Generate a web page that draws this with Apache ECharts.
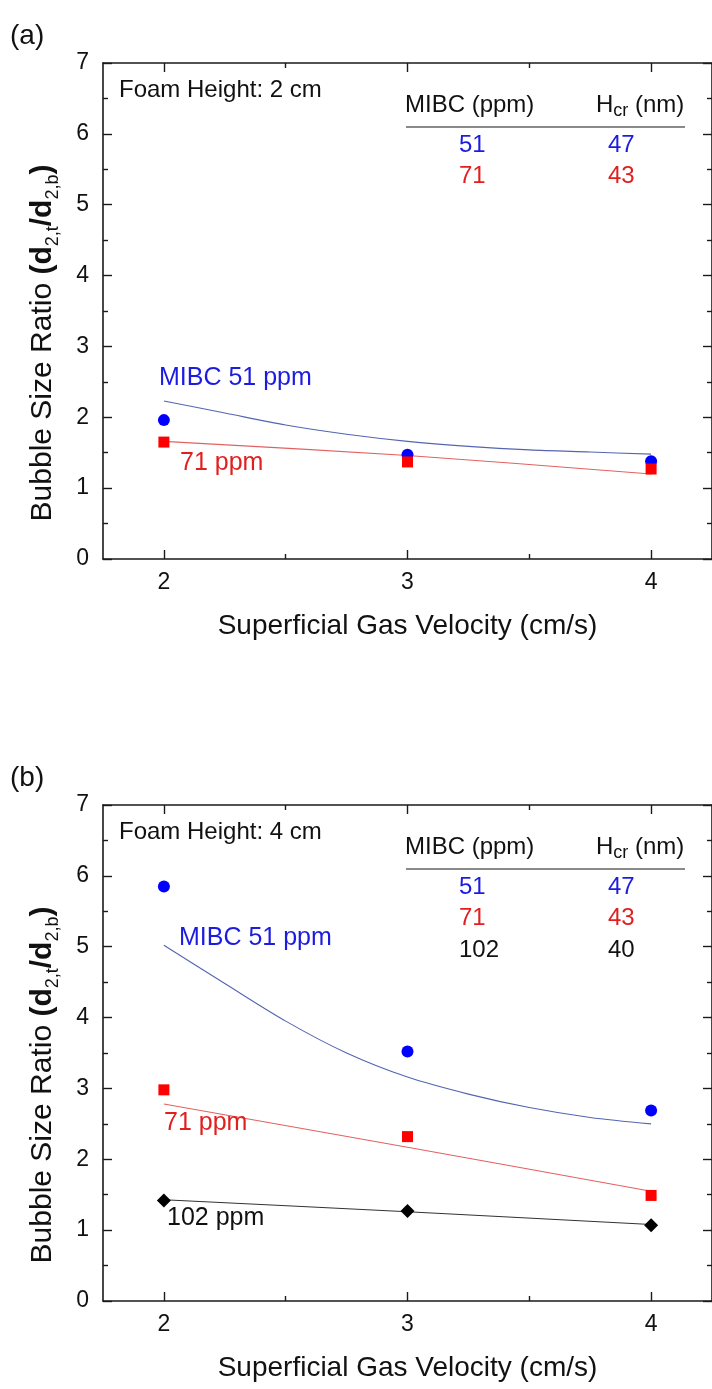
<!DOCTYPE html>
<html><head><meta charset="utf-8">
<script src="https://cdn.jsdelivr.net/npm/echarts@6/dist/echarts.min.js"></script>
<style>html,body{margin:0;padding:0;background:#fff}#c{width:712px;height:1389px}</style>
</head><body><div id="c"></div>
<script>
// ---------- data ----------
const velocity = [2, 3, 4];
const xTickValues = [2, 3, 4];
const xMinorValues = [2.5, 3.5];
const fitX = [2, 2.25, 2.5, 2.75, 3, 3.25, 3.5, 3.75, 4];

// panel (a): foam height 2 cm
const a_mibc51 = [1.96, 1.47, 1.38];
const a_mibc71 = [1.65, 1.37, 1.27];
const a_fit51 = [2.23, 2.06, 1.89, 1.76, 1.66, 1.59, 1.54, 1.51, 1.48];
const a_fit71 = [1.66, 1.46, 1.20];

// panel (b): foam height 4 cm
const b_mibc51 = [5.85, 3.52, 2.69];
const b_mibc71 = [2.98, 2.32, 1.49];
const b_mibc102 = [1.42, 1.27, 1.07];
const b_fit51 = [5.02, 4.48, 3.95, 3.50, 3.16, 2.92, 2.73, 2.59, 2.50];
const b_fit71 = [2.78, 2.17, 1.55];
const b_fit102 = [1.43, 1.26, 1.08];

// legend table
const tableMIBC = ['51', '71', '102'];
const tableHcr = ['47', '43', '40'];

// ---------- styling ----------
const FONT = 'Liberation Sans, Arial, Helvetica, sans-serif';
const BLUE = '#0000ff', RED = '#ff0000', BLACK = '#000000';
const TXT_BLUE = '#1c1ce0', TXT_RED = '#e01f1f';
const AX = '#1a1a1a';
const PANEL_DY = 742;
const GRID_TOP = 63, GRID_LEFT = 103, GRID_W = 617, GRID_H = 496;

const zip = (xs, ys) => xs.map((x, i) => [x, ys[i]]);

function xAxes(gridIndex) {
  const base = { gridIndex, type: 'value', min: 1.75, max: 4.25, splitLine: { show: false } };
  return [
    Object.assign({}, base, {
      position: 'bottom',
      axisLine: { show: true, lineStyle: { color: AX, width: 1.6 } },
      axisTick: { show: true, inside: true, length: 9, customValues: xTickValues, lineStyle: { color: AX, width: 1.4 } },
      axisLabel: { show: true, customValues: xTickValues, fontFamily: FONT, fontSize: 23, color: '#111', margin: 12 },
      name: 'Superficial Gas Velocity (cm/s)', nameLocation: 'middle', nameGap: 53,
      nameTextStyle: { fontFamily: FONT, fontSize: 28, color: '#111' }
    }),
    Object.assign({}, base, {
      position: 'bottom',
      axisLine: { show: false },
      axisTick: { show: true, inside: true, length: 5, customValues: xMinorValues, lineStyle: { color: AX, width: 1.4 } },
      axisLabel: { show: false }
    }),
    Object.assign({}, base, {
      position: 'top',
      axisLine: { show: true, lineStyle: { color: AX, width: 1.6 } },
      axisTick: { show: true, inside: true, length: 9, customValues: xTickValues, lineStyle: { color: AX, width: 1.4 } },
      axisLabel: { show: false }
    }),
    Object.assign({}, base, {
      position: 'top',
      axisLine: { show: false },
      axisTick: { show: true, inside: true, length: 5, customValues: xMinorValues, lineStyle: { color: AX, width: 1.4 } },
      axisLabel: { show: false }
    })
  ];
}
function yAxes(gridIndex) {
  const base = {
    gridIndex, type: 'value', min: 0, max: 7, interval: 1, splitLine: { show: false },
    axisLine: { show: true, lineStyle: { color: AX, width: 1.6 } },
    axisTick: { show: true, inside: true, length: 9, lineStyle: { color: AX, width: 1.4 } },
    minorTick: { show: true, splitNumber: 2, length: 5, lineStyle: { color: AX, width: 1.4 } }
  };
  return [
    Object.assign({}, base, { position: 'left',
      axisLabel: { show: true, fontFamily: FONT, fontSize: 23, color: '#111', margin: 14 } }),
    Object.assign({}, base, { position: 'right', axisLabel: { show: false } })
  ];
}

function fitLine(xi, yi, data, color) {
  return { type: 'line', xAxisIndex: xi, yAxisIndex: yi, data, smooth: 0.3, symbol: 'none',
    lineStyle: { color, width: 1.1 }, z: 2, silent: true };
}
function pts(xi, yi, data, symbol, size, color) {
  return { type: 'scatter', xAxisIndex: xi, yAxisIndex: yi, data, symbol, symbolSize: size,
    itemStyle: { color, opacity: 1 }, z: 3, silent: true };
}

const series = [
  fitLine(0, 0, zip(fitX, a_fit51), '#5565b0'),
  fitLine(0, 0, zip(velocity, a_fit71), '#e26262'),
  pts(0, 0, zip(velocity, a_mibc51), 'circle', 12, BLUE),
  pts(0, 0, zip(velocity, a_mibc71), 'rect', 11, RED),

  fitLine(4, 2, zip(fitX, b_fit51), '#5565b0'),
  fitLine(4, 2, zip(velocity, b_fit71), '#e26262'),
  fitLine(4, 2, zip(velocity, b_fit102), '#333333'),
  pts(4, 2, zip(velocity, b_mibc51), 'circle', 12, BLUE),
  pts(4, 2, zip(velocity, b_mibc71), 'rect', 11, RED),
  pts(4, 2, zip(velocity, b_mibc102), 'diamond', 14, BLACK)
];

// ---------- annotations ----------
function txt(x, y, text, color, size, extra) {
  return Object.assign({ type: 'text', x, y, z: 10, silent: true,
    style: { text, fill: color || '#111', font: (size || 24) + 'px ' + FONT, verticalAlign: 'middle', align: 'left' } }, extra || {});
}
function panelGraphics(dy, label, foam, rows, curveLabels) {
  const g = [];
  g.push(txt(10, 36 + dy, label, '#111', 28));
  g.push(txt(119, 90 + dy, foam, '#111', 24));
  g.push(txt(405, 105 + dy, 'MIBC (ppm)', '#111', 24));
  g.push({ type: 'text', x: 596, y: 105 + dy, z: 10, silent: true,
    style: { text: '{m|H}{s|cr}{m| (nm)}', verticalAlign: 'middle', align: 'left',
      rich: {
        m: { fontFamily: FONT, fontSize: 24, fill: '#111', color: '#111', lineHeight: 30, verticalAlign: 'middle' },
        s: { fontFamily: FONT, fontSize: 18, fill: '#111', color: '#111', lineHeight: 12, verticalAlign: 'bottom' }
      } } });
  g.push({ type: 'line', z: 10, silent: true, shape: { x1: 406, y1: 127 + dy, x2: 685, y2: 127 + dy },
    style: { stroke: '#8a8a8a', lineWidth: 2 } });
  const rowY = [145, 176, 208];
  const rowColor = [TXT_BLUE, TXT_RED, '#111'];
  for (let i = 0; i < rows; i++) {
    g.push(txt(459, rowY[i] + dy, tableMIBC[i], rowColor[i], 24));
    g.push(txt(608, rowY[i] + dy, tableHcr[i], rowColor[i], 24));
  }
  curveLabels.forEach(c => g.push(txt(c[0], c[1] + dy, c[2], c[3], 25)));
  // y-axis title
  g.push({ type: 'text', x: 43, y: 343 + dy, rotation: Math.PI / 2, z: 10, silent: true,
    style: { text: '{m|Bubble Size Ratio }{b|(d}{s|2,t}{b|/d}{s|2,b}{b|)}', align: 'center', verticalAlign: 'middle',
      rich: {
        m: { fontFamily: FONT, fontSize: 30, fill: '#111', color: '#111', lineHeight: 38, verticalAlign: 'middle' },
        b: { fontFamily: FONT, fontSize: 30, fontWeight: 'bold', fill: '#111', color: '#111', lineHeight: 38, verticalAlign: 'middle' },
        s: { fontFamily: FONT, fontSize: 18, fill: '#111', color: '#111', lineHeight: 16, verticalAlign: 'bottom' }
      } } });
  return g;
}

const graphic = [].concat(
  panelGraphics(0, '(a)', 'Foam Height: 2 cm', 2, [
    [159, 378, 'MIBC 51 ppm', TXT_BLUE],
    [180, 463, '71 ppm', TXT_RED]
  ]),
  panelGraphics(PANEL_DY, '(b)', 'Foam Height: 4 cm', 3, [
    [179, 196, 'MIBC 51 ppm', TXT_BLUE],
    [164, 381, '71 ppm', TXT_RED],
    [167, 476, '102 ppm', '#111']
  ])
);

const chart = echarts.init(document.getElementById('c'), null, { renderer: 'canvas' });
chart.setOption({
  backgroundColor: '#ffffff',
  animation: false,
  grid: [
    { left: GRID_LEFT, top: GRID_TOP, width: GRID_W, height: GRID_H },
    { left: GRID_LEFT, top: GRID_TOP + PANEL_DY, width: GRID_W, height: GRID_H }
  ],
  xAxis: [].concat(xAxes(0), xAxes(1)),
  yAxis: [].concat(yAxes(0), yAxes(1)),
  series,
  graphic
});
</script>
</body></html>
